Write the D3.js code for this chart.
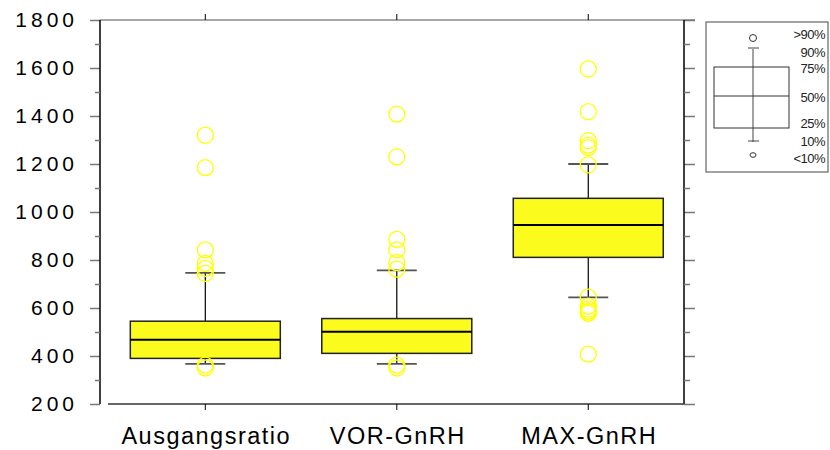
<!DOCTYPE html>
<html>
<head>
<meta charset="utf-8">
<script src="https://cdn.jsdelivr.net/npm/d3@7"></script>
<style>
  body { margin: 0; background: #fff; }
  svg { display: block; font-family: "Liberation Sans", Arial, sans-serif; }
</style>
</head>
<body>
<svg id="chart" width="830" height="450"></svg>
<script>
// data
var categories = ["Ausgangsratio", "VOR-GnRH", "MAX-GnRH"];
var p10 = [367, 367, 644];
var p25 = [390, 411, 811];
var p50 = [468, 501, 946];
var p75 = [545, 556, 1057];
var p90 = [746, 757, 1200];
var outliers = [
    [1320, 1185, 842, 786, 765, 744, 362, 350],
    [1408, 1230, 886, 842, 789, 762, 362, 350],
    [1596, 1418, 1297, 1279, 1268, 1196, 645, 608, 595, 586, 578, 408]
];
var yTicks = [200, 400, 600, 800, 1000, 1200, 1400, 1600, 1800];
var yMinor = [300, 500, 700, 900, 1100, 1300, 1500, 1700];
var legendLabels = [">90%", "90%", "75%", "50%", "25%", "10%", "<10%"];

var svg = d3.select("#chart");

var plotL = 100, plotR = 684, plotT = 20, plotB = 404;

var y = d3.scaleLinear().domain([200, 1800]).range([plotB, plotT]);
var x = d3.scaleLinear().domain([-0.55, 2.5]).range([plotL, plotR]);
var boxW = 150, capW = 40;

// top frame line (gray, with small ticks pointing up)
svg.append("line")
    .attr("x1", plotL).attr("x2", plotR + 11)
    .attr("y1", plotT).attr("y2", plotT)
    .attr("stroke", "#8a8a8a").attr("stroke-width", 1.5);

svg.selectAll(".ttick").data(categories).enter().append("line")
    .attr("x1", function (d, i) { return x(i); })
    .attr("x2", function (d, i) { return x(i); })
    .attr("y1", plotT - 6).attr("y2", plotT)
    .attr("stroke", "#000").attr("stroke-width", 1);

// left axis
var yAxis = d3.axisLeft(y).tickValues(yTicks).tickSize(10).tickPadding(12)
    .tickFormat(d3.format("d"));
var gy = svg.append("g").attr("transform", "translate(" + plotL + ",0)").call(yAxis);
gy.select(".domain").remove();
gy.selectAll(".tick line").attr("stroke", "#777").attr("stroke-width", 1.5);
gy.selectAll(".tick text")
    .style("font-size", "21px")
    .style("letter-spacing", "4px")
    .attr("fill", "#000");
gy.append("line").attr("x1", 0).attr("x2", 0).attr("y1", plotT).attr("y2", plotB)
    .attr("stroke", "#000").attr("stroke-width", 1.5);
var gym = svg.append("g").attr("transform", "translate(" + plotL + ",0)")
    .call(d3.axisLeft(y).tickValues(yMinor).tickSize(5).tickFormat(""));
gym.select(".domain").remove();
gym.selectAll(".tick line").attr("stroke", "#777").attr("stroke-width", 1.5);

// right axis
var gr = svg.append("g").attr("transform", "translate(" + plotR + ",0)")
    .call(d3.axisRight(y).tickValues(yTicks).tickSize(11).tickFormat(""));
gr.select(".domain").remove();
gr.selectAll(".tick line").attr("stroke", "#777").attr("stroke-width", 1.5);
var grm = svg.append("g").attr("transform", "translate(" + plotR + ",0)")
    .call(d3.axisRight(y).tickValues(yMinor).tickSize(6).tickFormat(""));
grm.select(".domain").remove();
grm.selectAll(".tick line").attr("stroke", "#777").attr("stroke-width", 1.5);
gr.append("line").attr("x1", 0).attr("x2", 0).attr("y1", plotT).attr("y2", plotB)
    .attr("stroke", "#000").attr("stroke-width", 1.5);

// bottom axis
svg.append("line")
    .attr("x1", plotL + 8).attr("x2", plotR)
    .attr("y1", plotB).attr("y2", plotB)
    .attr("stroke", "#333").attr("stroke-width", 1.5);
svg.selectAll(".btick").data(categories).enter().append("line")
    .attr("x1", function (d, i) { return x(i); })
    .attr("x2", function (d, i) { return x(i); })
    .attr("y1", plotB).attr("y2", plotB + 6)
    .attr("stroke", "#000").attr("stroke-width", 1);
svg.selectAll(".clabel").data(categories).enter().append("text")
    .attr("x", function (d, i) { return x(i) + 1; })
    .attr("y", 444)
    .attr("text-anchor", "middle")
    .style("font-size", "23.5px")
    .style("letter-spacing", "1.5px")
    .text(function (d) { return d; });

// boxes
var box = svg.selectAll(".box").data(categories).enter().append("g").attr("class", "box");

box.append("line")
    .attr("x1", function (d, i) { return x(i); })
    .attr("x2", function (d, i) { return x(i); })
    .attr("y1", function (d, i) { return y(p90[i]); })
    .attr("y2", function (d, i) { return y(p10[i]); })
    .attr("stroke", "#000").attr("stroke-width", 1.2);

box.append("rect")
    .attr("x", function (d, i) { return x(i) - boxW / 2; })
    .attr("y", function (d, i) { return y(p75[i]); })
    .attr("width", boxW)
    .attr("height", function (d, i) { return y(p25[i]) - y(p75[i]); })
    .attr("fill", "#fbfb1e").attr("stroke", "#222").attr("stroke-width", 1.5);

box.append("line")
    .attr("x1", function (d, i) { return x(i) - boxW / 2; })
    .attr("x2", function (d, i) { return x(i) + boxW / 2; })
    .attr("y1", function (d, i) { return y(p50[i]); })
    .attr("y2", function (d, i) { return y(p50[i]); })
    .attr("stroke", "#000").attr("stroke-width", 2);

[p90, p10].forEach(function (arr) {
    box.append("line")
        .attr("x1", function (d, i) { return x(i) - capW / 2; })
        .attr("x2", function (d, i) { return x(i) + capW / 2; })
        .attr("y1", function (d, i) { return y(arr[i]); })
        .attr("y2", function (d, i) { return y(arr[i]); })
        .attr("stroke", "#555").attr("stroke-width", 1.8);
});

// outliers
categories.forEach(function (c, i) {
    svg.selectAll(".out" + i).data(outliers[i]).enter().append("circle")
        .attr("cx", x(i))
        .attr("cy", function (d) { return y(d); })
        .attr("r", 8)
        .attr("fill", "none")
        .attr("stroke", "#ffff00")
        .attr("stroke-width", 1.3);
});

// legend
var lg = svg.append("g").attr("transform", "translate(706,22)");
lg.append("rect").attr("x", 0).attr("y", 0).attr("width", 122).attr("height", 150)
    .attr("fill", "#fff").attr("stroke", "#666").attr("stroke-width", 1.2);
var lx = 47;
lg.append("line").attr("x1", lx).attr("x2", lx).attr("y1", 27).attr("y2", 120)
    .attr("stroke", "#444").attr("stroke-width", 1);
lg.append("rect").attr("x", 8).attr("y", 45).attr("width", 75).attr("height", 61)
    .attr("fill", "none").attr("stroke", "#333").attr("stroke-width", 1);
lg.append("line").attr("x1", 8).attr("x2", 83).attr("y1", 74).attr("y2", 74)
    .attr("stroke", "#333").attr("stroke-width", 1);
lg.append("line").attr("x1", 42).attr("x2", 53).attr("y1", 26).attr("y2", 26)
    .attr("stroke", "#444").attr("stroke-width", 1);
lg.append("line").attr("x1", 42).attr("x2", 53).attr("y1", 119).attr("y2", 119)
    .attr("stroke", "#444").attr("stroke-width", 1);
lg.append("circle").attr("cx", lx).attr("cy", 16).attr("r", 3.5)
    .attr("fill", "none").attr("stroke", "#333").attr("stroke-width", 1);
lg.append("ellipse").attr("cx", lx).attr("cy", 133).attr("rx", 3).attr("ry", 2.3)
    .attr("fill", "none").attr("stroke", "#333").attr("stroke-width", 1);
var ly = [17, 35, 51, 80, 106, 124, 141];
lg.selectAll(".ll").data(legendLabels).enter().append("text")
    .attr("x", 119)
    .attr("y", function (d, i) { return ly[i]; })
    .attr("text-anchor", "end")
    .style("font-family", "'Liberation Sans Narrow', 'Liberation Sans', sans-serif")
    .style("font-size", "13px")
    .style("letter-spacing", "-0.5px")
    .attr("fill", "#222")
    .text(function (d) { return d; });
</script>
</body>
</html>
